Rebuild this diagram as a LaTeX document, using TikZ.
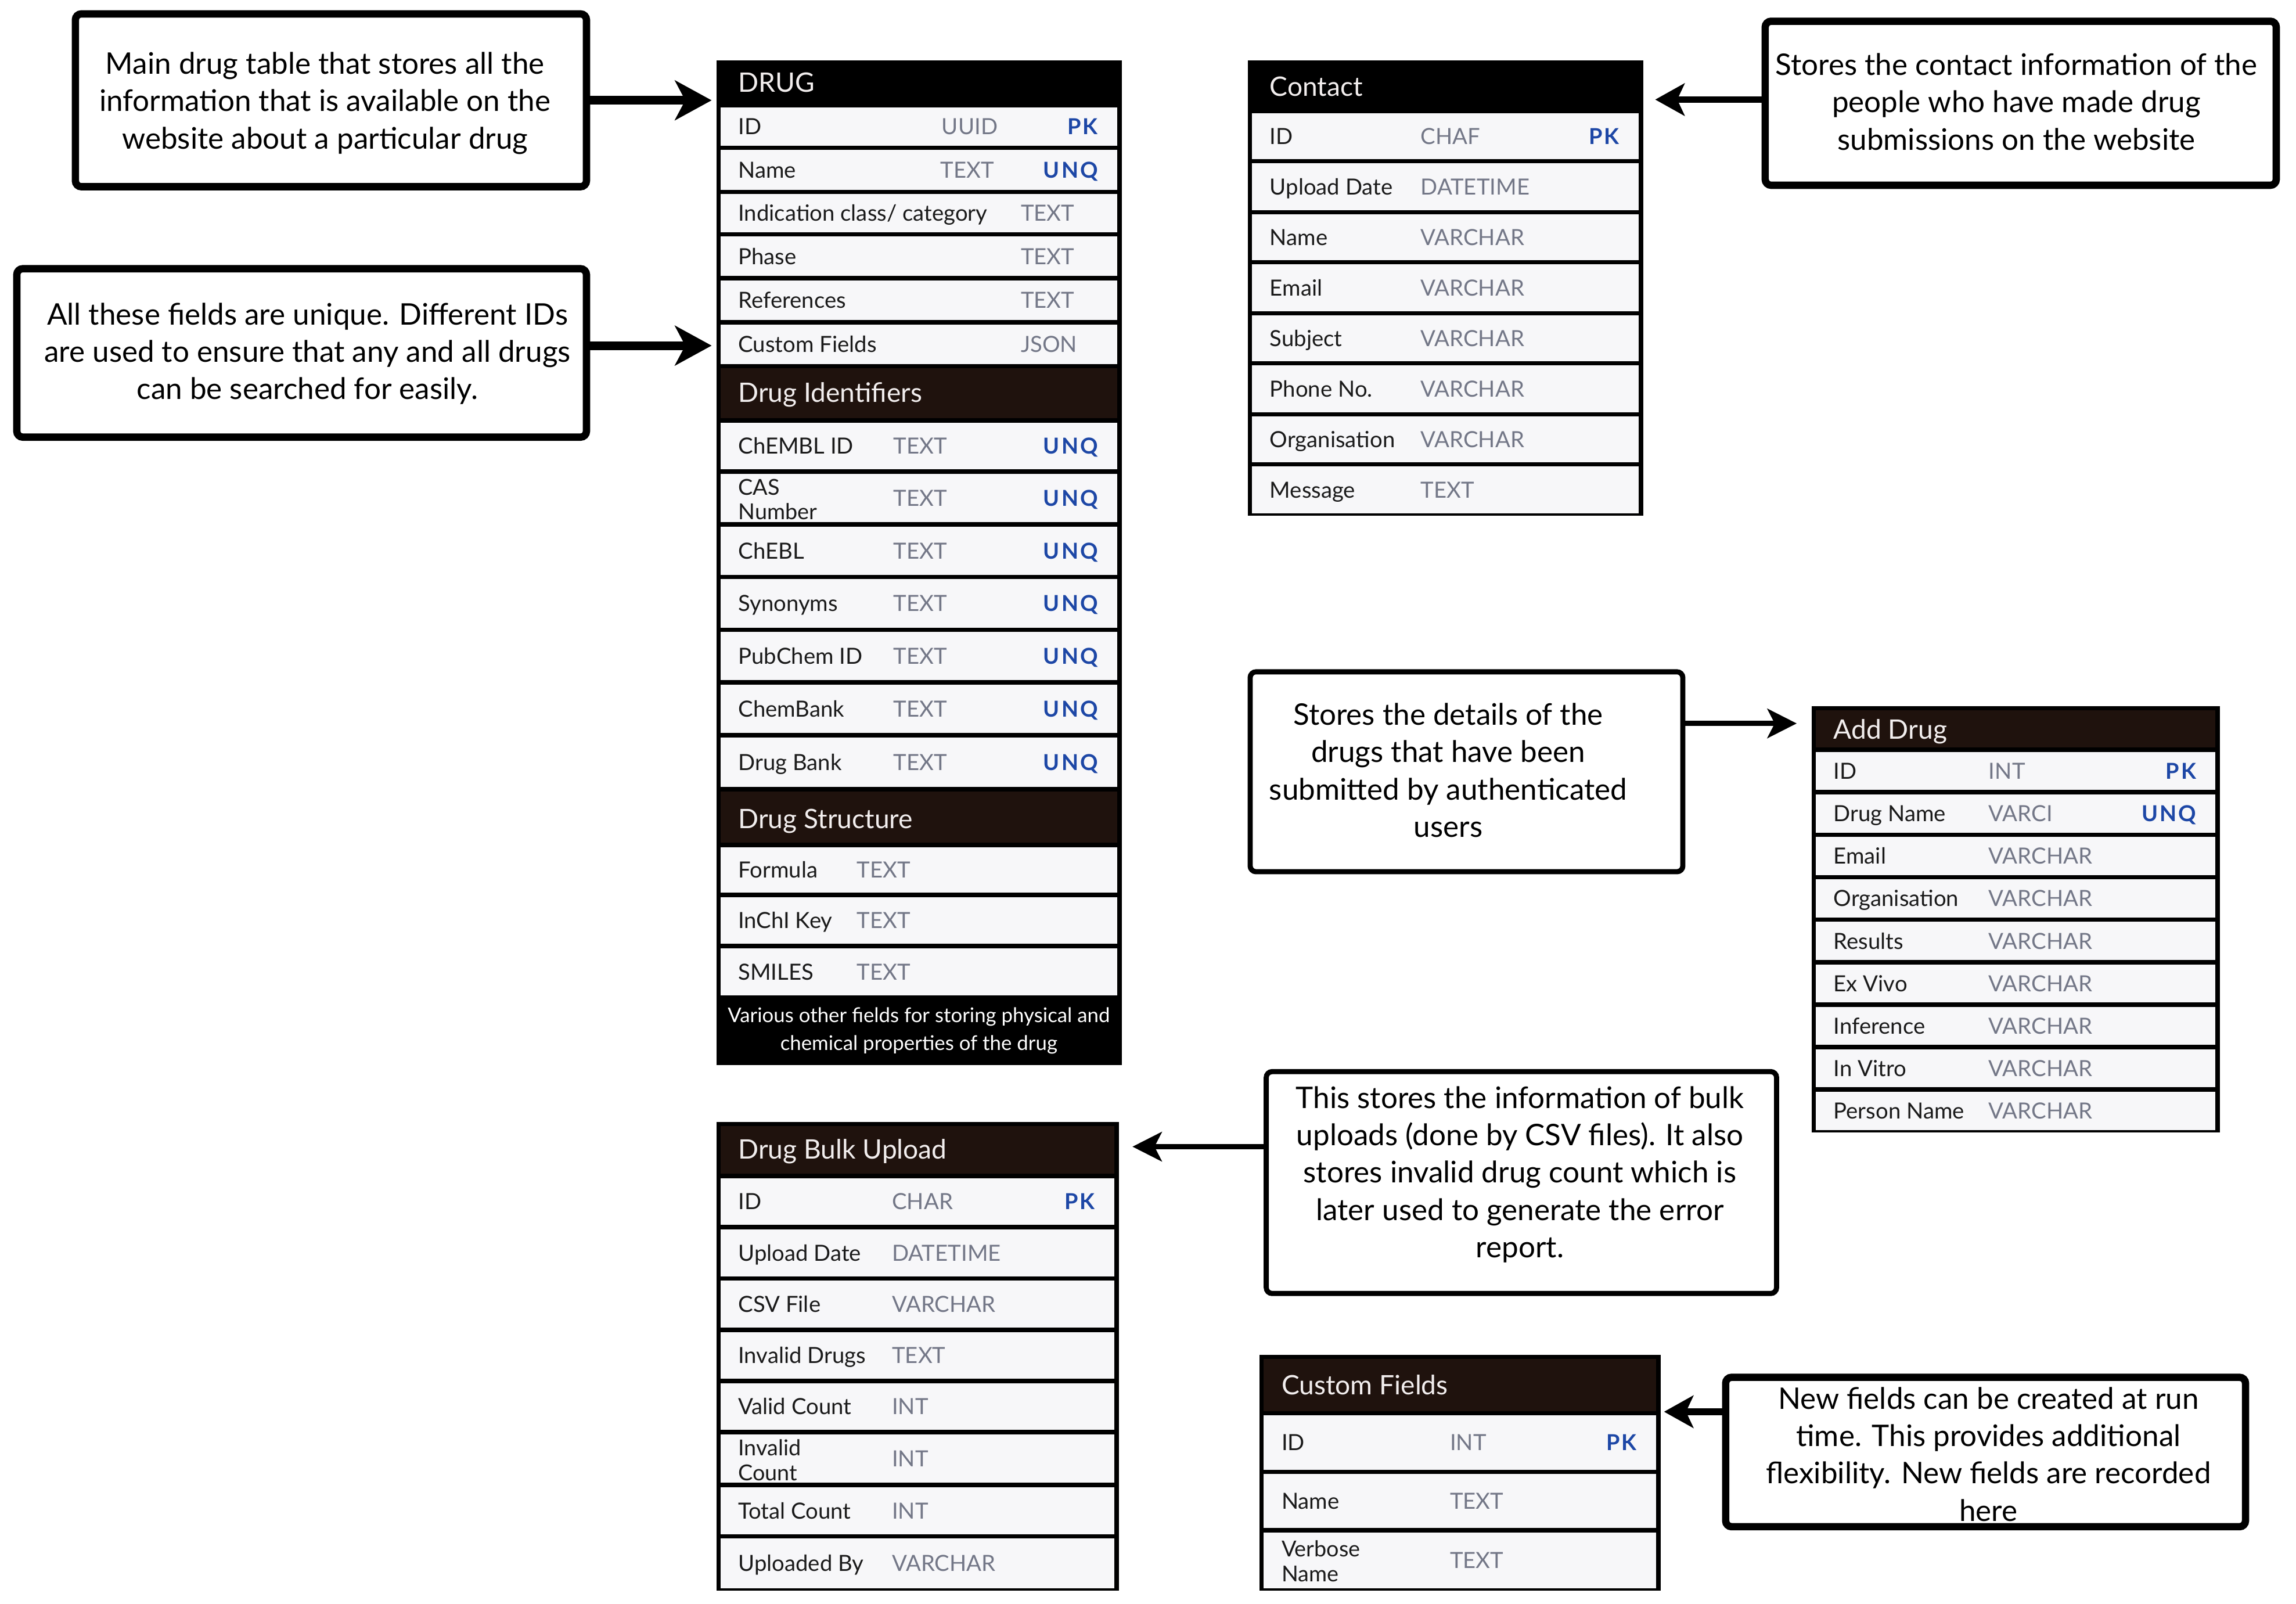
\documentclass[tikz,border=0pt]{standalone}
\usepackage{fontspec}
\setmainfont{Lato}
\usetikzlibrary{arrows.meta}
\definecolor{rowbg}{HTML}{F7F7F9}
\definecolor{typegray}{HTML}{737787}
\definecolor{keyblue}{HTML}{1D47A6}
\definecolor{hdrbrown}{HTML}{1F120D}
\definecolor{fieldblack}{HTML}{1A1A1A}
\definecolor{hdrtext}{HTML}{F2EEEE}
\tikzset{
  tbl/.style={fill=black, draw=none, inner sep=0pt, anchor=north west},
  fld/.style={anchor=base west, inner sep=0pt, font=\fontsize{15.2}{17}\selectfont, text=fieldblack},
  fldtwo/.style={anchor=west, inner sep=0pt, align=left, font=\fontsize{15}{17}\selectfont, text=fieldblack},
  typ/.style={anchor=base west, inner sep=0pt, font=\fontsize{15.2}{17}\selectfont, text=typegray},
  keyc/.style={anchor=base east, inner sep=0pt, font=\fontsize{15}{17}\selectfont\bfseries\addfontfeature{LetterSpace=8}, text=keyblue},
  hdr/.style={anchor=base west, inner sep=0pt, font=\fontsize{18.3}{21}\selectfont, text=hdrtext},
  ann/.style={draw=black, line width=5pt, fill=white, rounded corners=4pt, inner sep=0pt},
  annthin/.style={ann, line width=3.5pt},
  anntext/.style={align=center, inner sep=0pt, font=\fontsize{20.3}{25.5}\selectfont, text=black},
  arrbig/.style={line width=6pt, -{Stealth[length=25pt,width=27pt,inset=7pt]}},
  arrmid/.style={line width=4.6pt, -{Stealth[length=20pt,width=22pt,inset=5pt]}},
  arrthin/.style={line width=3.5pt, -{Stealth[length=20pt,width=20pt,inset=5pt]}}
}
\begin{document}
\begin{tikzpicture}[x=1pt,y=-1pt]
\useasboundingbox (0,0) rectangle (1568,1095);
\fill[white] (0,0) rectangle (1568,1095);

% ---------------- DRUG table ----------------
\node[tbl, minimum width=277pt, minimum height=686pt] (drug) at (489,41) {};
\node[hdr] (drugh) at (504,63) {DRUG};
\fill[hdrbrown] (492,251.5) rectangle (763,285.5);
\node[hdr] (drugidh) at (504,274.5) {Drug Identifiers};
\fill[hdrbrown] (492,540.5) rectangle (763,575.5);
\node[hdr] (drugsth) at (504,565.5) {Drug Structure};
\foreach \a/\b/\f/\t/\tx/\k [count=\i] in {
  72/101/ID/UUID/643/PK,
  101/131/Name/TEXT/642/UNQ,
  131/160/{Indication class/ category}/TEXT/697/{},
  160/190/Phase/TEXT/697/{},
  190/220/References/TEXT/697/{},
  220/250/Custom Fields/JSON/697/{},
  287/322/ChEMBL ID/TEXT/610/UNQ,
  322/358/{}/TEXT/610/UNQ,
  358/394/ChEBL/TEXT/610/UNQ,
  394/430/Synonyms/TEXT/610/UNQ,
  430/466/PubChem ID/TEXT/610/UNQ,
  466/502/ChemBank/TEXT/610/UNQ,
  502/539/Drug Bank/TEXT/610/UNQ,
  577/611/Formula/TEXT/585/{},
  611/646/InChI Key/TEXT/585/{},
  646/681/SMILES/TEXT/585/{}} {
  \fill[rowbg] (492,\a+1.5) rectangle (763,\b-1.5);
  \node[fld] (drugf\i) at (504,{(\a+\b)/2+5.5}) {\f};
  \node[typ] (drugt\i) at (\tx,{(\a+\b)/2+5.5}) {\t};
  \node[keyc] (drugk\i) at (750,{(\a+\b)/2+5.5}) {\k};
}
\node[fldtwo] (drugcas) at (504,341) {CAS\\Number};
\node[anchor=center, inner sep=0pt, align=center, text=white,
  font=\fontsize{13.8}{19}\selectfont] (drugfoot) at (627.5,704)
  {Various other fields for storing physical and\\chemical properties of the drug};

% ---------------- Contact table ----------------
\node[tbl, minimum width=270pt, minimum height=311pt] (contact) at (852,41) {};
\node[hdr] (contacth) at (867,65.5) {Contact};
\foreach \a/\b/\f/\t/\k [count=\i] in {
  76/110/ID/CHAF/PK,
  110/145/Upload Date/DATETIME/{},
  145/179/Name/VARCHAR/{},
  179/214/Email/VARCHAR/{},
  214/248/Subject/VARCHAR/{},
  248/283/Phone No./VARCHAR/{},
  283/317/Organisation/VARCHAR/{},
  317/352/Message/TEXT/{}} {
  \fill[rowbg] (855,\a+1.5) rectangle (1119,\b-1.5);
  \node[fld] (contactf\i) at (867,{(\a+\b)/2+5.5}) {\f};
  \node[typ] (contactt\i) at (970,{(\a+\b)/2+5.5}) {\t};
  \node[keyc] (contactk\i) at (1106,{(\a+\b)/2+5.5}) {\k};
}

% ---------------- Add Drug table ----------------
\node[tbl, minimum width=279pt, minimum height=291pt] (adddrug) at (1237,482) {};
\fill[hdrbrown] (1240,485) rectangle (1513,510.5);
\node[hdr] (adddrugh) at (1252,504.5) {Add Drug};
\foreach \a/\b/\f/\t/\k [count=\i] in {
  512/541/ID/INT/PK,
  541/570/Drug Name/VARCI/UNQ,
  570/599/Email/VARCHAR/{},
  599/628/Organisation/VARCHAR/{},
  628/657/Results/VARCHAR/{},
  657/686/Ex Vivo/VARCHAR/{},
  686/715/Inference/VARCHAR/{},
  715/744/In Vitro/VARCHAR/{},
  744/773/Person Name/VARCHAR/{}} {
  \fill[rowbg] (1240,\a+1.5) rectangle (1513,\b-1.5);
  \node[fld] (adddrugf\i) at (1252,{(\a+\b)/2+5.5}) {\f};
  \node[typ] (adddrugt\i) at (1358,{(\a+\b)/2+5.5}) {\t};
  \node[keyc] (adddrugk\i) at (1500,{(\a+\b)/2+5.5}) {\k};
}

% ---------------- Drug Bulk Upload table ----------------
\node[tbl, minimum width=275pt, minimum height=320pt] (bulk) at (489,766) {};
\fill[hdrbrown] (492,769) rectangle (761,801.5);
\node[hdr] (bulkh) at (504,791.5) {Drug Bulk Upload};
\foreach \a/\b/\f/\t/\k [count=\i] in {
  803/838/ID/CHAR/PK,
  838/873/Upload Date/DATETIME/{},
  873/908/CSV File/VARCHAR/{},
  908/943/Invalid Drugs/TEXT/{},
  943/978/Valid Count/INT/{},
  978/1014/{}/INT/{},
  1014/1049/Total Count/INT/{},
  1049/1086/Uploaded By/VARCHAR/{}} {
  \fill[rowbg] (492,\a+1.5) rectangle (761,\b-1.5);
  \node[fld] (bulkf\i) at (504,{(\a+\b)/2+5.5}) {\f};
  \node[typ] (bulkt\i) at (609,{(\a+\b)/2+5.5}) {\t};
  \node[keyc] (bulkk\i) at (748,{(\a+\b)/2+5.5}) {\k};
}
\node[fldtwo] (bulkinv) at (504,997) {Invalid\\Count};

% ---------------- Custom Fields table ----------------
\node[tbl, minimum width=274pt, minimum height=161pt] (custom) at (860,925) {};
\fill[hdrbrown] (863,928) rectangle (1131,963.5);
\node[hdr] (customh) at (875,952.5) {Custom Fields};
\foreach \a/\b/\f/\t/\k [count=\i] in {
  965/1005/ID/INT/PK,
  1005/1045/Name/TEXT/{},
  1045/1086/{}/TEXT/{}} {
  \fill[rowbg] (863,\a+1.5) rectangle (1131,\b-1.5);
  \node[fld] (customf\i) at (875,{(\a+\b)/2+5.5}) {\f};
  \node[typ] (customt\i) at (990,{(\a+\b)/2+5.5}) {\t};
  \node[keyc] (customk\i) at (1118,{(\a+\b)/2+5.5}) {\k};
}
\node[fldtwo] (customvn) at (875,1066) {Verbose\\Name};

% ---------------- Annotation boxes ----------------
\node[ann, minimum width=349pt, minimum height=118pt] (a1) at (226,68.5) {};
\node[anntext] (a1t) at (222,70.5) {Main drug table that stores all the\\information that is available on the\\website about a particular drug};

\node[ann, minimum width=389pt, minimum height=115pt] (a2) at (206,241) {};
\node[anntext] (a2t) at (210,241.5) {All these fields are unique. Different IDs\\are used to ensure that any and all drugs\\can be searched for easily.};

\node[ann, minimum width=349pt, minimum height=112pt] (a3) at (1380,70.5) {};
\node[anntext] (a3t) at (1377,69.5) {Stores the contact information of the\\people who have made drug\\submissions on the website};

\node[annthin, minimum width=295.5pt, minimum height=136.5pt] (a4) at (1001.5,527) {};
\node[anntext] (a4t) at (989,526) {Stores the details of the\\drugs that have been\\submitted by authenticated\\users};

\node[annthin, minimum width=348.5pt, minimum height=151.5pt] (a5) at (1039,807.5) {};
\node[anntext] (a5t) at (1038,802) {This stores the information of bulk\\uploads (done by CSV files). It also\\stores invalid drug count which is\\later used to generate the error\\report.};

\node[ann, minimum width=355pt, minimum height=102pt] (a6) at (1356,991.5) {};
\node[anntext] (a6t) at (1358,993) {New fields can be created at run\\time. This provides additional\\flexibility. New fields are recorded\\here};

% ---------------- Connectors ----------------
\coordinate (a1o) at (a1.east);
\draw[arrbig, shorten >=3pt] (a1o) -- (a1o -| drug.west);
\coordinate (a2o) at ([yshift=5pt]a2.east);
\draw[arrbig, shorten >=3pt] (a2o) -- (a2o -| drug.west);
\coordinate (a3o) at ([yshift=2.5pt]a3.west);
\draw[arrmid, shorten >=8pt] (a3o) -- (a3o -| contact.east);
\coordinate (a4o) at ([yshift=33pt]a4.east);
\draw[arrthin, shorten >=10pt] (a4o) -- (a4o -| adddrug.west);
\coordinate (a5o) at ([yshift=24.5pt]a5.west);
\draw[arrthin, shorten >=9pt] (a5o) -- (a5o -| bulk.east);
\coordinate (a6o) at ([yshift=27.5pt]a6.west);
\draw[arrmid, shorten >=2pt] (a6o) -- (a6o -| custom.east);
\end{tikzpicture}
\end{document}
